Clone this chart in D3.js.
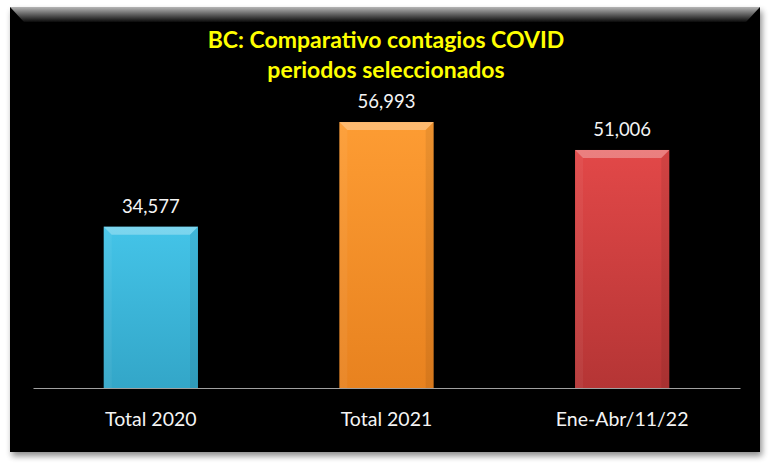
<!DOCTYPE html>
<html><head><meta charset="utf-8">
<script src="https://cdn.jsdelivr.net/npm/d3@7/dist/d3.min.js"></script>
<style>body{margin:0;background:#fff}svg{display:block}</style>
</head><body>
<svg id="c" width="770" height="470"></svg>
<script>
const categories = ["Total 2020", "Total 2021", "Ene-Abr/11/22"];
const values = [34577, 56993, 51006];
const titleLines = ["BC: Comparativo contagios COVID", "periodos seleccionados"];
const colors = [["#44c4e8", "#33a6c8"], ["#fd9c33", "#e8821f"], ["#e24848", "#b53535"]];

const svg = d3.select("#c");
const defs = svg.append("defs");
const sh = defs.append("filter").attr("id","sh").attr("x","-5%").attr("y","-5%").attr("width","112%").attr("height","115%");
sh.append("feGaussianBlur").attr("in","SourceAlpha").attr("stdDeviation",3);
sh.append("feOffset").attr("dx",2).attr("dy",4).attr("result","o");
sh.append("feComponentTransfer").append("feFuncA").attr("type","linear").attr("slope",0.45);
const m = sh.append("feMerge"); m.append("feMergeNode"); m.append("feMergeNode").attr("in","SourceGraphic");

const tg = defs.append("linearGradient").attr("id","topbev").attr("x1",0).attr("y1",0).attr("x2",0).attr("y2",1);
tg.append("stop").attr("offset","0%").attr("stop-color","#b5b5b5");
tg.append("stop").attr("offset","100%").attr("stop-color","#0a0a0a");

colors.forEach((c,i)=>{
  const g = defs.append("linearGradient").attr("id","bg"+i).attr("x1",0).attr("y1",0).attr("x2",0).attr("y2",1);
  g.append("stop").attr("offset","0%").attr("stop-color",c[0]);
  g.append("stop").attr("offset","100%").attr("stop-color",c[1]);
});

// panel
const P = {x:10, y:7, w:750, h:445};
svg.append("rect").attr("x",P.x).attr("y",P.y).attr("width",P.w).attr("height",P.h).attr("fill","#030303").attr("filter","url(#sh)");
svg.append("path").attr("d",`M${P.x},${P.y}H${P.x+P.w}L${P.x+P.w-14},${P.y+15}H${P.x+14}Z`).attr("fill","url(#topbev)");

// title
svg.append("g").selectAll("text").data(titleLines).join("text")
  .attr("x",386).attr("y",(d,i)=>48+i*30).attr("text-anchor","middle")
  .attr("fill","#ffff00").attr("font-family","Lato, 'Open Sans', sans-serif").attr("font-weight","bold")
  .attr("font-size",23).text(d=>d);

const x = d3.scaleBand().domain(categories).range([33,740]).paddingInner(0.6).paddingOuter(0.3);
const y = d3.scaleLinear().domain([0,60000]).range([388,108]);

const bars = svg.append("g");
categories.forEach((cat,i)=>{
  const x0 = x(cat), w = x.bandwidth(), y0 = y(values[i]), h = y(0)-y0;
  const b = 8;
  const g = bars.append("g");
  g.append("rect").attr("x",x0).attr("y",y0).attr("width",w).attr("height",h).attr("fill","url(#bg"+i+")");
  g.append("path").attr("d",`M${x0},${y0}H${x0+w}L${x0+w-b},${y0+b}H${x0+b}Z`).attr("fill","#fff").attr("opacity",0.3);
  g.append("path").attr("d",`M${x0},${y0}L${x0+b},${y0+b}V${y0+h}H${x0}Z`).attr("fill","#fff").attr("opacity",0.05);
  g.append("path").attr("d",`M${x0+w},${y0}L${x0+w-b},${y0+b}V${y0+h}H${x0+w}Z`).attr("fill","#000").attr("opacity",0.07);
});

// value labels
svg.append("g").selectAll("text").data(values).join("text")
  .attr("x",(d,i)=>x(categories[i])+x.bandwidth()/2).attr("y",d=>y(d)-14)
  .attr("text-anchor","middle").attr("fill","#f4f4f4")
  .attr("font-family","Lato, 'Open Sans', sans-serif").attr("font-size",18.5)
  .text(d=>d3.format(",")(d));

// axis
const ax = svg.append("g").attr("transform","translate(0,388)").call(d3.axisBottom(x).tickSize(0).tickPadding(24));
ax.select(".domain").attr("stroke","#a0a0a0").attr("stroke-width",1);
ax.selectAll("text").attr("fill","#f4f4f4").attr("font-family","Lato, 'Open Sans', sans-serif").attr("font-size",19.5);
</script>
</body></html>
